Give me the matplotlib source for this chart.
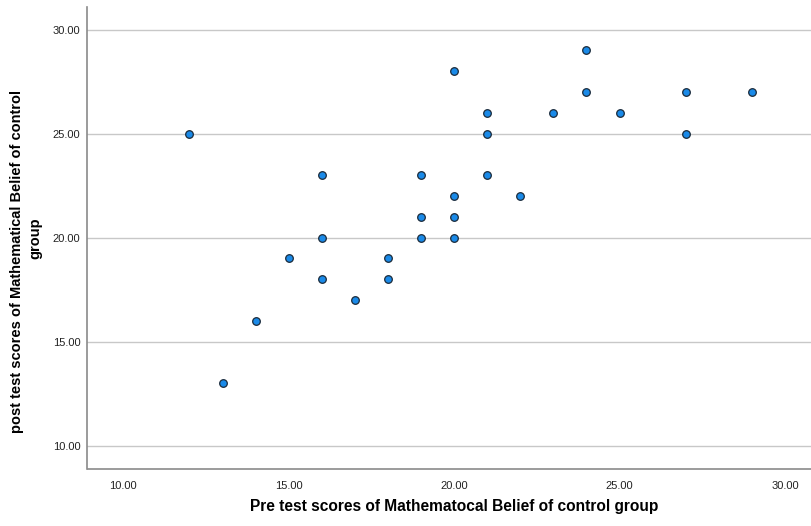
import matplotlib
matplotlib.use("Agg")
import matplotlib.pyplot as plt

pre = [12, 13, 14, 15, 16, 16, 16, 17, 18, 18, 19, 19, 19, 20, 20, 20, 20,
       21, 21, 21, 22, 23, 24, 24, 25, 27, 27, 29]
post = [25, 13, 16, 19, 23, 20, 18, 17, 19, 18, 23, 21, 20, 28, 22, 21, 20,
        26, 25, 23, 22, 26, 29, 27, 26, 27, 25, 27]
ticks = [10, 15, 20, 25, 30]
tick_labels = ["10.00", "15.00", "20.00", "25.00", "30.00"]

plt.rcParams['font.family'] = ['Liberation Sans', 'DejaVu Sans']

fig = plt.figure(figsize=(8.12, 5.26), dpi=100)
W, H = 812, 526
ax = fig.add_axes([87.5 / W, (H - 468.7) / H, 1 - 87.5 / W, (468.7 - 6.7) / H])

ax.set_xlim(8.918, 30.816)
ax.set_ylim(8.895, 31.1)
ax.set_xticks(ticks)
ax.set_xticklabels(tick_labels)
ax.set_yticks(ticks)
ax.set_yticklabels(tick_labels)
ax.tick_params(length=0, labelsize=8, colors='#222222')
ax.tick_params(axis='y', pad=5)
ax.tick_params(axis='x', pad=9)

ax.grid(axis='y', color='#c8c8c8', linewidth=1)
ax.set_axisbelow(True)
for s in ['top', 'right']:
    ax.spines[s].set_visible(False)
for s in ['left', 'bottom']:
    ax.spines[s].set_color('#8a8a8a')
    ax.spines[s].set_linewidth(1.2)

ax.scatter(pre, post, s=30, c='#1a8ae8', edgecolors='#1a2a3a', linewidths=0.9, zorder=3)

fig.text(454 / W, 1 - 506 / H, "Pre test scores of Mathematocal Belief of control group",
         fontsize=11.2, fontweight='bold', ha='center', va='center')
fig.text(17 / W, 1 - 262 / H, "post test scores of Mathematical Belief of control",
         fontsize=10.5, fontweight='bold', rotation=90, ha='center', va='center')
fig.text(35 / W, 1 - 238 / H, "group",
         fontsize=10.5, fontweight='bold', rotation=90, ha='center', va='center')

fig.savefig("out.png", dpi=100)
